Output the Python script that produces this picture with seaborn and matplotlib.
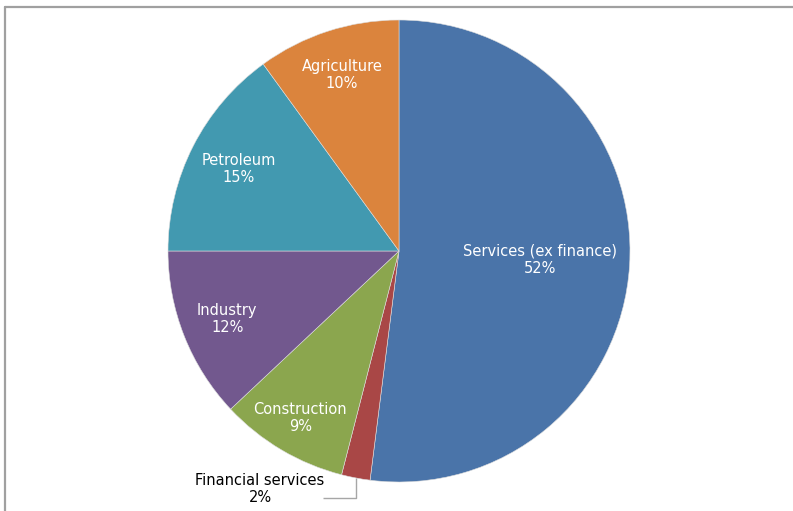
import numpy as np
import matplotlib
matplotlib.use("Agg")
import matplotlib.pyplot as plt
import seaborn as sns

sns.set_theme(style="white")
plt.rcParams["font.family"] = ["DejaVu Sans"]

# GDP composition by sector (%), clockwise from 12 o'clock
sectors = ["Services (ex finance)", "Financial services", "Construction",
           "Industry", "Petroleum", "Agriculture"]
shares = [52, 2, 9, 12, 15, 10]
colors = ["#4A74A9", "#A94746", "#8BA64E", "#72588E", "#4299B0", "#DB843D"]

# radial position of each label as a fraction of the radius
label_radius = [0.61, None, 0.84, 0.80, 0.78, 0.80]

W, H = 793, 511
fig = plt.figure(figsize=(W / 100, H / 100), dpi=100)
ax = fig.add_axes([0, 0, 1, 1])

cx, cy, R = 399, H - 251, 231
wedges, _ = ax.pie(shares, colors=colors, startangle=90, counterclock=False,
                   center=(cx, cy), radius=R, frame=True,
                   wedgeprops=dict(linewidth=0.4, edgecolor="#DDDDDD"))
ax.set_xlim(0, W)
ax.set_ylim(0, H)
ax.set_aspect("equal")
ax.axis("off")

fs = 10.5
for w, name, val, rf in zip(wedges, sectors, shares, label_radius):
    mid = np.deg2rad((w.theta1 + w.theta2) / 2)
    if rf is not None:
        x = cx + rf * R * np.cos(mid)
        y = cy + rf * R * np.sin(mid)
        ax.text(x, y, f"{name}\n{val}%", ha="center", va="center",
                color="white", fontsize=fs, linespacing=1.2)
    else:
        # small slice: label outside with an elbow leader line
        px = cx + R * np.cos(mid)
        py = cy + R * np.sin(mid)
        lx, ly = 260, H - 489
        ax.text(lx, ly, f"{name}\n{val}%", ha="center", va="center",
                color="black", fontsize=fs, linespacing=1.2)
        ax.plot([323, px, px], [H - 498, H - 498, py],
                color="#A6A6A6", lw=1.0, solid_capstyle="butt")

# chart area border (top and left edges visible)
ax.plot([4.5, W], [H - 6.5, H - 6.5], color="#A0A0A0", lw=1.6)
ax.plot([4.5, 4.5], [0, H - 6.5], color="#A0A0A0", lw=1.6)

fig.savefig("out.png", dpi=100)
